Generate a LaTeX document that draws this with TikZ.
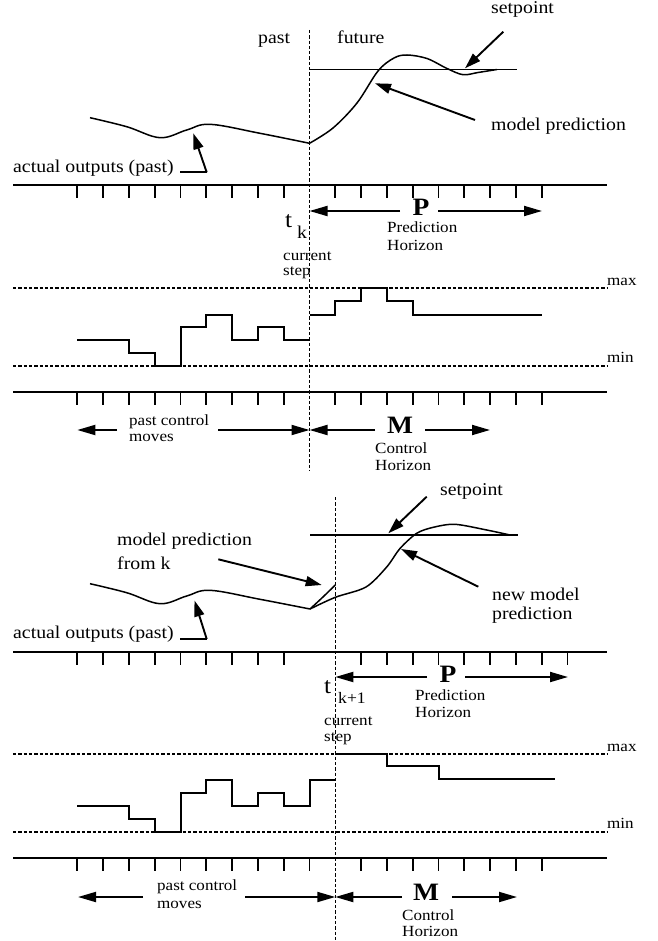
\documentclass[tikz,border=0pt]{standalone}
\usepackage{fontspec}
\setmainfont{Liberation Serif}[FakeStretch=1.1]
\usetikzlibrary{arrows.meta}
\newcommand\txtL{\fontsize{18}{20}\selectfont}
\newcommand\txtS{\fontsize{15.5}{17}\selectfont}
\newcommand\txtB{\fontsize{25}{27}\selectfont\bfseries}
\begin{document}
\begin{tikzpicture}[x=1pt,y=-1pt,
  lbl/.style={anchor=base west, inner sep=0pt, font=\txtL},
  slbl/.style={anchor=base west, inner sep=0pt, font=\txtS},
  blbl/.style={anchor=base, inner sep=0pt, font=\txtB},
  axisline/.style={line width=2pt},
  tickmark/.style={line width=1.7pt},
  dashln/.style={line width=1.3pt, dash pattern=on 3.3pt off 2pt},
  sig/.style={line width=2pt},
  curve/.style={line width=1.5pt},
  harrow/.style={line width=1.9pt, -{Triangle[length=18pt,width=10pt]}},
  aarrow/.style={line width=1.9pt, -{Triangle[length=16pt,width=10pt]}},
]
\useasboundingbox (0,0) rectangle (657,941);

% ================= TOP PANEL =================
\node[lbl] (past1) at (258,44) {past};
\node[lbl] (fut1) at (337,44) {future};
\node[lbl] (sp1) at (491,14) {setpoint};
\node[lbl] (mp1) at (491,131) {model prediction};
\node[lbl] (ao1) at (13,173) {actual outputs (past)};
\node[blbl] (P1) at (421,215) {P};
\node[slbl] (ph1a) at (387,233) {Prediction};
\node[slbl] (ph1b) at (387,251) {Horizon};
\node[inner sep=0pt, anchor=base west, font=\fontsize{23}{25}\selectfont] (t1) at (285,227) {t};
\node[inner sep=0pt, anchor=base west, font=\fontsize{18}{20}\selectfont] (k1) at (297,238) {k};
\node[slbl] (cs1a) at (283,260) {current};
\node[slbl] (cs1b) at (283,275) {step};
\node[slbl] (max1) at (607,285) {max};
\node[slbl] (min1) at (607,362) {min};
\node[slbl] (pc1a) at (129,425) {past control};
\node[slbl] (pc1b) at (129,441) {moves};
\node[blbl] (M1) at (400,433) {M};
\node[slbl] (ch1a) at (375,453) {Control};
\node[slbl] (ch1b) at (375,470) {Horizon};

\draw[curve] (310,69.3) -- (517,69.3);
\draw[curve] plot[smooth, tension=0.6] coordinates {(90,117.7) (126.7,126.7) (160,137.7) (186.7,130) (210,124.3) (260,133.3) (309.5,143.3)};
\draw[curve] plot[smooth, tension=0.55] coordinates {(309.5,143.3) (333,128) (357,103) (378,71) (394,58) (407,55) (427,58.5) (447,68.5) (463,74.7) (478,72.5) (497,69.5)};

\coordinate (sp1s) at (503.3,31.7);
\coordinate (sp1t) at (465,68.3);
\draw[aarrow] (sp1s) -- (sp1t);
\coordinate (mp1s) at (475,120);
\coordinate (mp1t) at (375,83.3);
\draw[aarrow] (mp1s) -- (mp1t);
\coordinate (ao1s) at (180,172.3);
\coordinate (ao1m) at (206.7,172.3);
\coordinate (ao1t) at (193.3,133.3);
\draw[line width=1.9pt] (ao1s) -- (ao1m);
\draw[aarrow] (ao1m) -- (ao1t);

\draw[axisline] (13,185) -- (607,185);
\foreach \i in {0,...,8,10,11,...,18} {\draw[tickmark] ({77.3+25.8*\i},185) -- ++(0,13);}

\draw[harrow] (400,211) -- (309.5,211);
\draw[harrow] (438,211) -- (542,211);

\draw[dashln] (13,288) -- (607,288);
\draw[dashln] (13,366) -- (607,366);

\draw[sig] (77.3,340) -| (128.9,353) -| (154.7,366) -| (180.5,327) -| (206.3,315) -| (232.1,340) -| (257.9,327) -| (283.7,340) -- (309.5,340);
\draw[sig] (309.5,315) -| (335.3,301) -| (361.1,288) -| (386.9,301) -| (412.7,315) -- (541.7,315);

\draw[axisline] (13,392) -- (607,392);
\foreach \i in {0,...,8,10,11,...,18} {\draw[tickmark] ({77.3+25.8*\i},392) -- ++(0,13);}

\draw[harrow] (117,430) -- (77.3,430);
\draw[harrow] (218,430) -- (309.5,430);
\draw[harrow] (375,430) -- (309.5,430);
\draw[harrow] (425,430) -- (490,430);

\draw[dashln] (309.5,30) -- (309.5,470);

% ================= BOTTOM PANEL =================
\node[lbl] (sp2) at (440,495) {setpoint};
\node[lbl] (mk2a) at (117,545) {model prediction};
\node[lbl] (mk2b) at (117,569) {from k};
\node[lbl] (nm2a) at (492,600) {new model};
\node[lbl] (nm2b) at (492,619) {prediction};
\node[lbl] (ao2) at (13,638) {actual outputs (past)};
\node[blbl] (P2) at (448,682) {P};
\node[slbl] (ph2a) at (415,700) {Prediction};
\node[slbl] (ph2b) at (415,717) {Horizon};
\node[inner sep=0pt, anchor=base west, font=\fontsize{23}{25}\selectfont] (t2) at (324,693) {t};
\node[inner sep=0pt, anchor=base west, font=\fontsize{16}{18}\selectfont] (k2) at (338,703) {k+1};
\node[slbl] (cs2a) at (324,725) {current};
\node[slbl] (cs2b) at (324,741) {step};
\node[slbl] (max2) at (607,751) {max};
\node[slbl] (min2) at (607,828) {min};
\node[slbl] (pc2a) at (157,890) {past control};
\node[slbl] (pc2b) at (157,908) {moves};
\node[blbl] (M2) at (426,900) {M};
\node[slbl] (ch2a) at (402,920) {Control};
\node[slbl] (ch2b) at (402,936) {Horizon};

\draw[curve] (310,535) -- (518,535);
\draw[curve] plot[smooth, tension=0.6] coordinates {(90,583.7) (126.7,592.7) (160,603.7) (186.7,596) (210,590.3) (260,599.3) (310,609)};
\draw[curve] (310,609) .. controls (322,598) .. (335.3,585);
\draw[curve] plot[smooth, tension=0.5] coordinates {(310,609) (335.3,597.3) (366,587) (386.7,567) (400,548.5) (416.7,533.3) (433.3,527.3) (455,524.3) (486.7,530) (510,535)};

\coordinate (sp2s) at (426.7,496.7);
\coordinate (sp2t) at (388.3,533.3);
\draw[aarrow] (sp2s) -- (sp2t);
\coordinate (nm2s) at (478.3,586.7);
\coordinate (nm2t) at (401,549);
\draw[aarrow] (nm2s) -- (nm2t);
\coordinate (mk2s) at (218.3,559.3);
\coordinate (mk2t) at (321.7,585);
\draw[aarrow] (mk2s) -- (mk2t);
\coordinate (ao2s) at (180,639);
\coordinate (ao2m) at (206.7,639);
\coordinate (ao2t) at (194.5,600.5);
\draw[line width=1.9pt] (ao2s) -- (ao2m);
\draw[aarrow] (ao2m) -- (ao2t);

\draw[axisline] (13,652) -- (607,652);
\foreach \i in {0,...,8,11,12,...,19} {\draw[tickmark] ({77.3+25.8*\i},652) -- ++(0,13);}

\draw[harrow] (427,677) -- (335.3,677);
\draw[harrow] (465,677) -- (568,677);

\draw[dashln] (13,754) -- (607,754);
\draw[dashln] (13,832) -- (607,832);

\draw[sig] (77.3,806) -| (128.9,819) -| (154.7,832) -| (180.5,793) -| (206.3,780) -| (232.1,806) -| (257.9,793) -| (283.7,806) -| (309.5,780) -- (335.3,780);
\draw[sig] (335.3,754) -| (386.9,766) -| (438.5,779) -- (555,779);

\draw[axisline] (13,858) -- (607,858);
\foreach \i in {0,...,9,11,12,...,18} {\draw[tickmark] ({77.3+25.8*\i},858) -- ++(0,13);}

\draw[harrow] (143,897) -- (78,897);
\draw[harrow] (245,897) -- (335.3,897);
\draw[harrow] (402,897) -- (335.3,897);
\draw[harrow] (452,897) -- (517,897);

\draw[dashln] (335.3,497) -- (335.3,941);
\end{tikzpicture}
\end{document}
